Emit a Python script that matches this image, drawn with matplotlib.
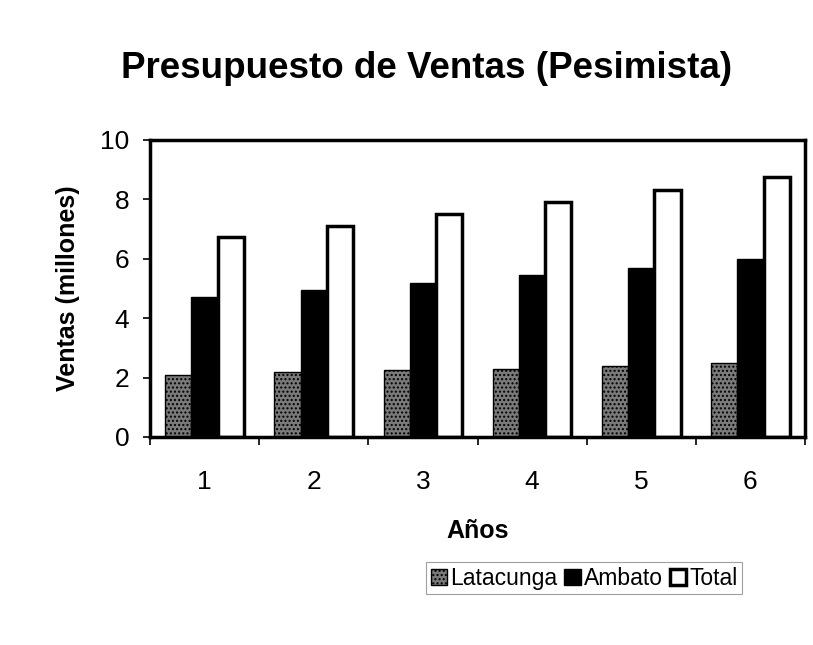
import numpy as np
import matplotlib
matplotlib.use("Agg")
import matplotlib.pyplot as plt

matplotlib.rc("font", family="Liberation Sans")
plt.rcParams["hatch.color"] = "#d0d0d0"

years = [1, 2, 3, 4, 5, 6]
latacunga = [2.1, 2.2, 2.25, 2.3, 2.4, 2.5]
ambato = [4.7, 4.95, 5.2, 5.45, 5.7, 6.0]
total = [6.75, 7.1, 7.5, 7.9, 8.3, 8.75]

fig = plt.figure(figsize=(8.13, 6.45), dpi=100)
ax = fig.add_axes([150 / 813, 1 - 437 / 645, 655 / 813, 297 / 645])

x = np.arange(len(years)) + 1
w = 0.24
ax.bar(x - w, latacunga, w, color="#7a7a7a", edgecolor="black", linewidth=1,
       hatch="....", label="Latacunga")
ax.bar(x, ambato, w, color="black", edgecolor="black", linewidth=1, label="Ambato")
ax.bar(x + w, total, w, color="white", edgecolor="black", linewidth=2.5, label="Total")

ax.set_xlim(0.5, 6.5)
ax.set_ylim(0, 10)
ax.set_yticks([0, 2, 4, 6, 8, 10])
ax.set_xticks(np.arange(0.5, 7, 1))
ax.set_xticklabels([])
ax.set_xticks(x, minor=True)
ax.set_xticklabels([str(y) for y in years], minor=True)
ax.tick_params(axis="x", which="minor", length=0, pad=24, labelsize=19)
ax.tick_params(axis="x", which="major", length=6, width=1.2)
ax.tick_params(axis="y", length=5, width=1.2, labelsize=19, pad=10)
for s in ax.spines.values():
    s.set_linewidth(2.5)

ax.set_xlabel("Años", fontsize=18, fontweight="bold", labelpad=18)
ax.set_ylabel("Ventas (millones)", fontsize=18, fontweight="bold", labelpad=14)
fig.text(0.525, 1 - 68 / 645, "Presupuesto de Ventas (Pesimista)", ha="center",
         va="center", fontsize=26.5, fontweight="bold")

leg = ax.legend(loc="center", bbox_to_anchor=(0.663, -0.475), ncol=3, fontsize=16.5,
                frameon=True, fancybox=False, edgecolor="#888888", handlelength=0.7,
                handleheight=0.7, handletextpad=0.15, columnspacing=0.3,
                borderpad=0.2, borderaxespad=0)
leg.get_frame().set_linewidth(0.8)

fig.savefig("out.png", dpi=100)
